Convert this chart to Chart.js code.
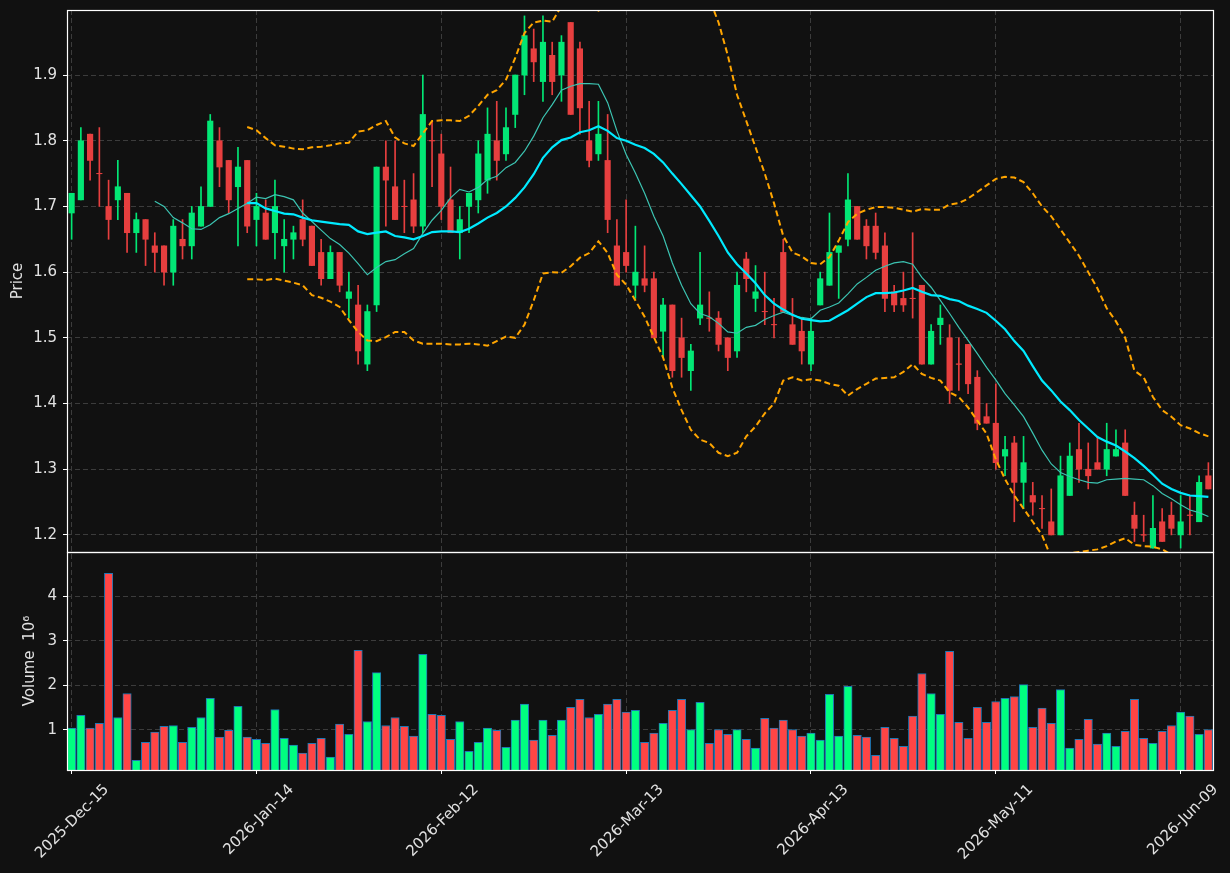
<!DOCTYPE html>
<html>
<head>
<meta charset="utf-8">
<title>Price / Volume</title>
<script src="https://cdn.jsdelivr.net/npm/chart.js@4.4.1/dist/chart.umd.min.js"></script>
<style>
    html, body { margin: 0; padding: 0; background: #111111; }
    #wrap { width: 1230px; height: 873px; }
</style>
</head>
<body>
<div id="wrap"><canvas id="priceChart" width="1230" height="873"></canvas></div>
<script>
/* ========================================
   Nen gia + khoi luong (Chart.js)
   - Nen ve bang floating bar (than + rau)
   - MA10, MA20, dai Bollinger
   - Khung khoi luong xep chong ben duoi
   ======================================== */

// --- Du lieu ---
const dates = [
    '2025-12-15', '2025-12-16', '2025-12-17', '2025-12-18', '2025-12-19', '2025-12-22', '2025-12-23', '2025-12-24', '2025-12-26', '2025-12-29',
    '2025-12-30', '2025-12-31', '2026-01-02', '2026-01-05', '2026-01-06', '2026-01-07', '2026-01-08', '2026-01-09', '2026-01-12', '2026-01-13',
    '2026-01-14', '2026-01-15', '2026-01-16', '2026-01-20', '2026-01-21', '2026-01-22', '2026-01-23', '2026-01-26', '2026-01-27', '2026-01-28',
    '2026-01-29', '2026-01-30', '2026-02-02', '2026-02-03', '2026-02-04', '2026-02-05', '2026-02-06', '2026-02-09', '2026-02-10', '2026-02-11',
    '2026-02-12', '2026-02-13', '2026-02-17', '2026-02-18', '2026-02-19', '2026-02-20', '2026-02-23', '2026-02-24', '2026-02-25', '2026-02-26',
    '2026-02-27', '2026-03-02', '2026-03-03', '2026-03-04', '2026-03-05', '2026-03-06', '2026-03-09', '2026-03-10', '2026-03-11', '2026-03-12',
    '2026-03-13', '2026-03-16', '2026-03-17', '2026-03-18', '2026-03-19', '2026-03-20', '2026-03-23', '2026-03-24', '2026-03-25', '2026-03-26',
    '2026-03-27', '2026-03-30', '2026-03-31', '2026-04-01', '2026-04-02', '2026-04-06', '2026-04-07', '2026-04-08', '2026-04-09', '2026-04-10',
    '2026-04-13', '2026-04-14', '2026-04-15', '2026-04-16', '2026-04-17', '2026-04-20', '2026-04-21', '2026-04-22', '2026-04-23', '2026-04-24',
    '2026-04-27', '2026-04-28', '2026-04-29', '2026-04-30', '2026-05-01', '2026-05-04', '2026-05-05', '2026-05-06', '2026-05-07', '2026-05-08',
    '2026-05-11', '2026-05-12', '2026-05-13', '2026-05-14', '2026-05-15', '2026-05-18', '2026-05-19', '2026-05-20', '2026-05-21', '2026-05-22',
    '2026-05-26', '2026-05-27', '2026-05-28', '2026-05-29', '2026-06-01', '2026-06-02', '2026-06-03', '2026-06-04', '2026-06-05', '2026-06-08',
    '2026-06-09', '2026-06-10', '2026-06-11', '2026-06-12'
];

const opens = [
    1.69, 1.71, 1.81, 1.75, 1.70, 1.71, 1.72, 1.66, 1.68, 1.64,
    1.64, 1.60, 1.65, 1.64, 1.67, 1.70, 1.80, 1.77, 1.73, 1.77,
    1.68, 1.69, 1.66, 1.64, 1.65, 1.68, 1.67, 1.63, 1.59, 1.63,
    1.56, 1.55, 1.46, 1.55, 1.76, 1.73, 1.70, 1.71, 1.67, 1.80,
    1.78, 1.71, 1.66, 1.70, 1.71, 1.74, 1.80, 1.78, 1.84, 1.90,
    1.94, 1.89, 1.93, 1.90, 1.98, 1.94, 1.80, 1.78, 1.77, 1.64,
    1.63, 1.58, 1.59, 1.59, 1.51, 1.55, 1.50, 1.45, 1.53, 1.53,
    1.53, 1.50, 1.48, 1.62, 1.56, 1.54, 1.52, 1.63, 1.52, 1.51,
    1.46, 1.55, 1.58, 1.63, 1.65, 1.70, 1.67, 1.67, 1.64, 1.57,
    1.56, 1.56, 1.58, 1.46, 1.52, 1.50, 1.46, 1.49, 1.44, 1.38,
    1.37, 1.32, 1.34, 1.28, 1.26, 1.24, 1.22, 1.20, 1.26, 1.33,
    1.30, 1.31, 1.30, 1.32, 1.34, 1.23, 1.20, 1.18, 1.22, 1.23,
    1.20, 1.23, 1.22, 1.29
];
const highs = [
    1.72, 1.82, 1.81, 1.82, 1.74, 1.77, 1.72, 1.69, 1.68, 1.66,
    1.64, 1.68, 1.68, 1.70, 1.73, 1.84, 1.82, 1.77, 1.79, 1.77,
    1.72, 1.71, 1.74, 1.68, 1.67, 1.71, 1.67, 1.65, 1.64, 1.63,
    1.60, 1.58, 1.55, 1.76, 1.80, 1.80, 1.74, 1.75, 1.90, 1.83,
    1.81, 1.76, 1.70, 1.72, 1.80, 1.85, 1.86, 1.85, 1.90, 1.99,
    1.97, 1.99, 1.95, 1.96, 1.98, 1.95, 1.86, 1.86, 1.84, 1.68,
    1.71, 1.67, 1.64, 1.60, 1.56, 1.55, 1.53, 1.49, 1.63, 1.57,
    1.54, 1.50, 1.60, 1.63, 1.61, 1.60, 1.56, 1.65, 1.56, 1.53,
    1.53, 1.60, 1.69, 1.64, 1.75, 1.70, 1.68, 1.69, 1.66, 1.58,
    1.60, 1.66, 1.58, 1.52, 1.55, 1.52, 1.50, 1.49, 1.45, 1.40,
    1.43, 1.35, 1.35, 1.35, 1.28, 1.26, 1.27, 1.32, 1.34, 1.37,
    1.34, 1.35, 1.37, 1.36, 1.36, 1.25, 1.23, 1.26, 1.24, 1.25,
    1.26, 1.26, 1.29, 1.31
];
const lows = [
    1.65, 1.71, 1.74, 1.70, 1.65, 1.68, 1.63, 1.63, 1.61, 1.60,
    1.58, 1.58, 1.62, 1.62, 1.67, 1.70, 1.73, 1.69, 1.64, 1.66,
    1.64, 1.65, 1.62, 1.60, 1.62, 1.64, 1.61, 1.58, 1.59, 1.57,
    1.53, 1.46, 1.45, 1.54, 1.67, 1.68, 1.66, 1.66, 1.66, 1.73,
    1.68, 1.66, 1.62, 1.66, 1.69, 1.72, 1.74, 1.77, 1.82, 1.87,
    1.89, 1.86, 1.87, 1.86, 1.84, 1.81, 1.76, 1.77, 1.66, 1.58,
    1.60, 1.56, 1.57, 1.50, 1.47, 1.44, 1.44, 1.42, 1.52, 1.51,
    1.48, 1.45, 1.47, 1.57, 1.54, 1.52, 1.50, 1.54, 1.49, 1.46,
    1.45, 1.55, 1.58, 1.56, 1.64, 1.65, 1.62, 1.62, 1.54, 1.54,
    1.54, 1.53, 1.46, 1.46, 1.49, 1.40, 1.42, 1.415, 1.36, 1.37,
    1.30, 1.29, 1.22, 1.24, 1.23, 1.21, 1.20, 1.20, 1.26, 1.28,
    1.27, 1.30, 1.29, 1.32, 1.26, 1.19, 1.19, 1.18, 1.19, 1.20,
    1.18, 1.20, 1.22, 1.27
];
const closes = [
    1.72, 1.80, 1.77, 1.75, 1.68, 1.73, 1.66, 1.68, 1.65, 1.63,
    1.60, 1.67, 1.64, 1.69, 1.70, 1.83, 1.76, 1.71, 1.76, 1.67,
    1.70, 1.65, 1.70, 1.65, 1.66, 1.65, 1.61, 1.59, 1.63, 1.58,
    1.57, 1.48, 1.54, 1.76, 1.74, 1.68, 1.70, 1.67, 1.84, 1.80,
    1.70, 1.66, 1.68, 1.72, 1.78, 1.81, 1.77, 1.82, 1.90, 1.96,
    1.92, 1.95, 1.89, 1.95, 1.84, 1.85, 1.77, 1.81, 1.68, 1.58,
    1.61, 1.60, 1.58, 1.50, 1.55, 1.45, 1.47, 1.48, 1.55, 1.53,
    1.49, 1.47, 1.58, 1.59, 1.57, 1.54, 1.52, 1.54, 1.49, 1.48,
    1.51, 1.59, 1.63, 1.64, 1.71, 1.65, 1.64, 1.63, 1.56, 1.55,
    1.55, 1.56, 1.46, 1.51, 1.53, 1.42, 1.46, 1.43, 1.37, 1.37,
    1.31, 1.33, 1.28, 1.31, 1.25, 1.24, 1.20, 1.29, 1.32, 1.30,
    1.29, 1.30, 1.33, 1.33, 1.26, 1.21, 1.20, 1.21, 1.19, 1.21,
    1.22, 1.23, 1.28, 1.27
];

// Khoi luong (don vi 10^6)
const volumes = [
    1.04, 1.33, 1.04, 1.15, 4.52, 1.28, 1.82, 0.32, 0.72, 0.95,
    1.08, 1.10, 0.72, 1.06, 1.28, 1.71, 0.84, 0.99, 1.53, 0.84,
    0.79, 0.70, 1.46, 0.81, 0.66, 0.48, 0.70, 0.81, 0.39, 1.13,
    0.90, 2.79, 1.19, 2.29, 1.10, 1.28, 1.08, 0.86, 2.70, 1.35,
    1.33, 0.79, 1.19, 0.52, 0.72, 1.04, 0.99, 0.61, 1.22, 1.58,
    0.77, 1.22, 0.88, 1.22, 1.51, 1.69, 1.28, 1.35, 1.58, 1.69,
    1.40, 1.44, 0.72, 0.93, 1.15, 1.44, 1.69, 1.01, 1.62, 0.70,
    1.01, 0.90, 1.01, 0.79, 0.59, 1.26, 1.04, 1.22, 1.01, 0.86,
    0.93, 0.77, 1.80, 0.86, 1.98, 0.88, 0.84, 0.43, 1.06, 0.81,
    0.63, 1.31, 2.27, 1.82, 1.35, 2.77, 1.17, 0.81, 1.51, 1.17,
    1.64, 1.71, 1.75, 2.02, 1.06, 1.49, 1.15, 1.91, 0.59, 0.79,
    1.24, 0.68, 0.93, 0.63, 0.97, 1.69, 0.81, 0.70, 0.97, 1.10,
    1.40, 1.31, 0.90, 1.01
];

// Duong trung binh va dai Bollinger (doc tu hinh)
const ma10 = [
    null, null, null, null, null, null, null, null, null, 1.708,
    1.700, 1.683, 1.675, 1.666, 1.665, 1.672, 1.683, 1.689, 1.697, 1.705,
    1.714, 1.712, 1.718, 1.715, 1.710, 1.690, 1.677, 1.664, 1.651, 1.642,
    1.629, 1.613, 1.596, 1.607, 1.616, 1.619, 1.628, 1.636, 1.659, 1.679,
    1.694, 1.713, 1.726, 1.722, 1.729, 1.741, 1.746, 1.759, 1.767, 1.784,
    1.807, 1.835, 1.855, 1.877, 1.883, 1.887, 1.887, 1.886, 1.858, 1.815,
    1.779, 1.751, 1.720, 1.685, 1.655, 1.614, 1.580, 1.552, 1.537, 1.532,
    1.522, 1.509, 1.507, 1.516, 1.519, 1.528, 1.534, 1.539, 1.534, 1.531,
    1.529, 1.542, 1.547, 1.553, 1.567, 1.582, 1.592, 1.603, 1.609, 1.614,
    1.616, 1.612, 1.592, 1.577, 1.557, 1.537, 1.516, 1.496, 1.476, 1.455,
    1.436, 1.415, 1.398, 1.380, 1.355, 1.329, 1.308, 1.295, 1.289, 1.284,
    1.280, 1.279, 1.284, 1.285, 1.286, 1.285, 1.284, 1.275, 1.263, 1.255,
    1.246, 1.238, 1.234, 1.228
];
const ma20 = [
    null, null, null, null, null, null, null, null, null, null,
    null, null, null, null, null, null, null, null, null, 1.705,
    1.705, 1.697, 1.693, 1.689, 1.688, 1.683, 1.679, 1.677, 1.675, 1.673,
    1.672, 1.662, 1.658, 1.660, 1.662, 1.655, 1.653, 1.650, 1.655, 1.661,
    1.662, 1.662, 1.661, 1.666, 1.674, 1.683, 1.690, 1.700, 1.713, 1.729,
    1.749, 1.774, 1.790, 1.801, 1.805, 1.813, 1.816, 1.822, 1.815, 1.804,
    1.800, 1.794, 1.789, 1.780, 1.767, 1.750, 1.734, 1.717, 1.700, 1.678,
    1.655, 1.630, 1.612, 1.598, 1.583, 1.565, 1.552, 1.543, 1.535, 1.529,
    1.527, 1.525, 1.526, 1.534, 1.542, 1.552, 1.562, 1.568, 1.568, 1.569,
    1.572, 1.576, 1.570, 1.565, 1.564, 1.559, 1.556, 1.549, 1.544, 1.538,
    1.526, 1.513, 1.495, 1.480, 1.457, 1.435, 1.420, 1.403, 1.390, 1.375,
    1.362, 1.349, 1.342, 1.336, 1.327, 1.317, 1.305, 1.292, 1.278, 1.270,
    1.264, 1.260, 1.259, 1.258
];
const bandUpper = [
    null, null, null, null, null, null, null, null, null, null,
    null, null, null, null, null, null, null, null, null, 1.821,
    1.816, 1.804, 1.793, 1.791, 1.788, 1.787, 1.790, 1.791, 1.793, 1.796,
    1.797, 1.814, 1.816, 1.824, 1.830, 1.805, 1.796, 1.792, 1.811, 1.830,
    1.831, 1.831, 1.830, 1.838, 1.853, 1.870, 1.877, 1.893, 1.926, 1.964,
    1.980, 1.983, 1.981, 2.005, 2.015, 2.020, 2.010, 1.998, 2.005, 2.012,
    2.019, 2.027, 2.046, 2.060, 2.064, 2.076, 2.078, 2.074, 2.055, 2.016,
    1.980, 1.930, 1.870, 1.830, 1.790, 1.750, 1.705, 1.655, 1.630, 1.624,
    1.614, 1.612, 1.623, 1.648, 1.676, 1.689, 1.695, 1.699, 1.699, 1.698,
    1.695, 1.692, 1.696, 1.695, 1.695, 1.703, 1.705, 1.712, 1.722, 1.732,
    1.742, 1.745, 1.744, 1.737, 1.720, 1.700, 1.685, 1.665, 1.645, 1.625,
    1.600, 1.575, 1.545, 1.525, 1.500, 1.450, 1.440, 1.410, 1.390, 1.380,
    1.367, 1.362, 1.355, 1.350
];
const bandLower = [
    null, null, null, null, null, null, null, null, null, null,
    null, null, null, null, null, null, null, null, null, 1.589,
    1.589, 1.588, 1.590, 1.587, 1.584, 1.580, 1.565, 1.561, 1.555, 1.547,
    1.527, 1.509, 1.496, 1.495, 1.501, 1.509, 1.509, 1.496, 1.491, 1.491,
    1.491, 1.490, 1.490, 1.491, 1.490, 1.488, 1.495, 1.502, 1.500, 1.520,
    1.557, 1.598, 1.600, 1.599, 1.609, 1.622, 1.629, 1.647, 1.629, 1.596,
    1.581, 1.557, 1.532, 1.501, 1.470, 1.424, 1.390, 1.360, 1.345, 1.340,
    1.325, 1.320, 1.325, 1.350, 1.365, 1.385, 1.400, 1.435, 1.440, 1.435,
    1.437, 1.435, 1.430, 1.427, 1.412, 1.422, 1.430, 1.438, 1.439, 1.440,
    1.448, 1.460, 1.445, 1.439, 1.435, 1.417, 1.410, 1.394, 1.374, 1.354,
    1.315, 1.285, 1.260, 1.240, 1.220, 1.200, 1.165, 1.170, 1.172, 1.174,
    1.176, 1.178, 1.183, 1.190, 1.195, 1.185, 1.183, 1.182, 1.178, 1.170,
    1.165, 1.160, 1.155, 1.150
];

const priceTicks = [1.2, 1.3, 1.4, 1.5, 1.6, 1.7, 1.8, 1.9];
const volumeTicks = [1, 2, 3, 4];
const MONTHS = ['Jan', 'Feb', 'Mar', 'Apr', 'May', 'Jun', 'Jul', 'Aug', 'Sep', 'Oct', 'Nov', 'Dec'];

// --- Mau sac ---
const CANDLE_UP = '#02e775';
const CANDLE_DOWN = '#e73f3f';
const VOL_UP = '#00ff80';
const VOL_DOWN = '#ff4545';
const GRID = '#3c3c3c';
const TEXT = '#e2e2e2';

const isUp = closes.map((c, i) => c > opens[i]);
const candleColors = isUp.map(u => u ? CANDLE_UP : CANDLE_DOWN);
const volumeColors = isUp.map(u => u ? VOL_UP : VOL_DOWN);

// Nen doji: than bang 0, ve bang gach ngang
const dojiPoints = closes.map((c, i) => c === opens[i] ? c : null);

function fmtDate(s) {
    const p = s.split('-');
    return p[0] + '-' + MONTHS[parseInt(p[1], 10) - 1] + '-' + p[2];
}

// Bo padding tu dong cua truc de khung ve dung vi tri
function noPadding(scale) {
    scale.paddingLeft = 0;
    scale.paddingRight = 0;
    scale.paddingTop = 0;
    scale.paddingBottom = 0;
}

// --- Plugin: nen toi + khung trang ---
const framePlugin = {
    id: 'frame',
    beforeDraw(chart) {
        const ctx = chart.ctx;
        ctx.save();
        ctx.fillStyle = '#111111';
        ctx.fillRect(0, 0, chart.width, chart.height);
        ctx.restore();
    },
    afterDraw(chart) {
        const ctx = chart.ctx;
        const x = chart.scales.x;
        ctx.save();
        ctx.strokeStyle = '#ffffff';
        ctx.lineWidth = 1.2;
        ['y', 'yVol'].forEach(function (id) {
            const s = chart.scales[id];
            ctx.strokeRect(Math.round(x.left) + 0.5, Math.round(s.top) + 0.5,
                Math.round(x.right - x.left), Math.round(s.bottom - s.top));
        });
        ctx.restore();
    }
};

const axisFont = { family: 'DejaVu Sans', size: 15 };

const chart = new Chart(document.getElementById('priceChart'), {
    data: {
        labels: dates,
        datasets: [
            {
                type: 'line', label: 'MA20', data: ma20, yAxisID: 'y',
                borderColor: '#00eaff', borderWidth: 2.2, pointRadius: 0,
                tension: 0, order: 0
            },
            {
                type: 'line', label: 'MA10', data: ma10, yAxisID: 'y',
                borderColor: '#3cc4b2', borderWidth: 1.2, pointRadius: 0,
                tension: 0, order: 0
            },
            {
                type: 'line', label: 'Upper', data: bandUpper, yAxisID: 'y',
                borderColor: '#ffa500', borderWidth: 2, borderDash: [6, 3.5], pointRadius: 0,
                tension: 0, order: 0
            },
            {
                type: 'line', label: 'Lower', data: bandLower, yAxisID: 'y',
                borderColor: '#ffa500', borderWidth: 2, borderDash: [6, 3.5], pointRadius: 0,
                tension: 0, order: 0
            },
            {
                type: 'line', label: 'Doji', data: dojiPoints, yAxisID: 'y',
                showLine: false, pointStyle: 'line', pointRadius: 2.8,
                pointBorderColor: candleColors, pointBorderWidth: 1,
                order: 1
            },
            {
                type: 'bar', label: 'Body', data: opens.map((o, i) => [o, closes[i]]), yAxisID: 'y',
                backgroundColor: candleColors, barThickness: 5.5, grouped: false,
                borderWidth: 0, order: 2
            },
            {
                type: 'bar', label: 'Wick', data: lows.map((l, i) => [l, highs[i]]), yAxisID: 'y',
                backgroundColor: candleColors, barThickness: 1, grouped: false,
                borderWidth: 0, order: 3
            },
            {
                type: 'bar', label: 'Volume', data: volumes, yAxisID: 'yVol',
                backgroundColor: volumeColors, borderColor: '#1f77b4', borderWidth: 1,
                borderSkipped: false, barThickness: 8.4, grouped: false, order: 4
            }
        ]
    },
    options: {
        responsive: false,
        animation: false,
        devicePixelRatio: 1,
        layout: { padding: { left: 0, top: 10, right: 17, bottom: 0 } },
        plugins: {
            legend: { display: false },
            tooltip: { enabled: false }
        },
        scales: {
            x: {
                type: 'category',
                offset: true,
                grid: {
                    color: GRID, lineWidth: 1, tickColor: '#ffffff', tickLength: 4,
                    offset: false
                },
                border: { display: false, dash: [5, 3] },
                ticks: {
                    autoSkip: false, maxRotation: 45, minRotation: 45,
                    color: TEXT, font: axisFont, padding: 7, labelOffset: 35,
                    callback: function (value, index) {
                        return index % 20 === 0 ? fmtDate(this.getLabelForValue(value)) : null;
                    }
                },
                afterFit: function (scale) { scale.height = 103; noPadding(scale); }
            },
            yVol: {
                type: 'linear', position: 'left', stack: 'panels', stackWeight: 218,
                min: 0.1, max: 5.0,
                grid: { color: GRID, tickColor: '#ffffff', tickLength: 4 },
                border: { display: false, dash: [5, 3] },
                ticks: { color: TEXT, font: axisFont, padding: 6 },
                afterBuildTicks: function (scale) { scale.ticks = volumeTicks.map(v => ({ value: v })); },
                title: { display: true, text: 'Volume  10⁶', color: TEXT, font: axisFont, padding: { top: 21, bottom: 0 } },
                afterFit: function (scale) { scale.width = 67; noPadding(scale); }
            },
            y: {
                type: 'linear', position: 'left', stack: 'panels', stackWeight: 542,
                min: 1.174, max: 1.999,
                grid: { color: GRID, tickColor: '#ffffff', tickLength: 4 },
                border: { display: false, dash: [5, 3] },
                ticks: {
                    color: TEXT, font: axisFont, padding: 6,
                    callback: function (v) { return v.toFixed(1); }
                },
                afterBuildTicks: function (scale) { scale.ticks = priceTicks.map(v => ({ value: v })); },
                title: { display: true, text: 'Price', color: TEXT, font: axisFont, padding: { top: 9, bottom: 0 } },
                afterFit: function (scale) { scale.width = 67; noPadding(scale); }
            }
        }
    },
    plugins: [framePlugin]
});
</script>
</body>
</html>
